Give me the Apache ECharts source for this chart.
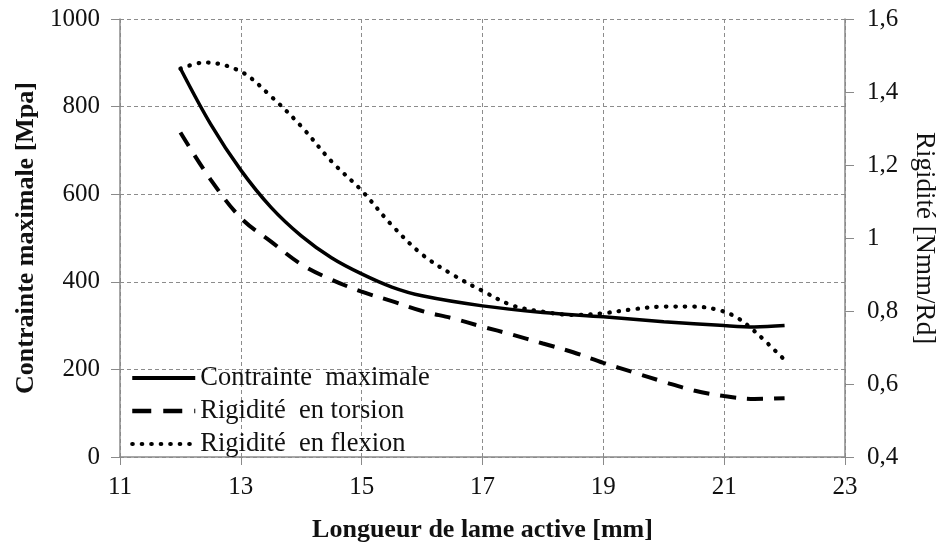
<!DOCTYPE html>
<html>
<head>
<meta charset="utf-8">
<script src="https://cdn.jsdelivr.net/npm/echarts@6/dist/echarts.min.js"></script>
<style>
  html, body { margin: 0; padding: 0; background: #fff; }
  #chart { width: 937px; height: 544px; }
</style>
</head>
<body>
<div id="chart"></div>
<script>
// longueur de lame active [mm] / valeurs
const xContrainte = [12, 12.5, 13, 13.5, 14, 14.5, 15, 15.5, 16, 17, 18, 19, 20, 21, 21.5, 22];
const contrainte  = [887, 760, 655, 570, 505, 455, 418, 388, 368, 345, 330, 320, 309, 300, 297, 300];

const xTorsion = [12, 12.5, 13, 13.5, 14, 14.5, 15, 15.5, 16, 16.5, 17, 17.5, 18, 18.5, 19, 19.5, 20, 20.5, 21, 21.5, 22];
const torsion  = [1.289, 1.16, 1.055, 0.99, 0.928, 0.886, 0.853, 0.827, 0.80, 0.78, 0.757, 0.735, 0.711, 0.687, 0.658, 0.632, 0.606, 0.582, 0.567, 0.559, 0.561];

const xFlexion = [12, 12.4, 13, 13.5, 14, 14.5, 15, 15.5, 16, 16.5, 17, 17.5, 18, 18.5, 19, 19.5, 20, 20.5, 20.9, 21.2, 21.5, 22];
const flexion  = [1.464, 1.481, 1.456, 1.388, 1.306, 1.21, 1.13, 1.035, 0.955, 0.90, 0.855, 0.815, 0.798, 0.789, 0.794, 0.805, 0.812, 0.812, 0.803, 0.783, 0.745, 0.666];

const seriesNames = ['Contrainte  maximale', 'Rigidité  en torsion', 'Rigidité  en flexion'];

const FONT = 'Liberation Serif';
const AXIS_GREY = '#8a8a8a';
const GRID_LINE = { show: true, lineStyle: { color: '#8c8c8c', type: [4, 3], width: 1 } };
const SOLID = { color: '#000', width: 3.5 };
const DASHES = { color: '#000', width: 4, type: [16, 11] };
const DOTS = { color: '#000', width: 4.2, type: [0.5, 9], cap: 'round' };

const pairs = (xs, ys) => xs.map((x, i) => [x, ys[i]]);

const chart = echarts.init(document.getElementById('chart'), null, { renderer: 'canvas' });

chart.setOption({
    animation: false,
    backgroundColor: '#fff',
    textStyle: { fontFamily: FONT, color: '#111' },
    grid: { left: 120, right: 92, top: 19, bottom: 87, containLabel: false, outerBoundsMode: 'none' },
    legend: {
        orient: 'vertical',
        left: 125,
        top: 357,
        itemWidth: 63,
        itemHeight: 14,
        itemGap: 1,
        // pas de symbole dans la légende, seulement le trait
        itemStyle: { opacity: 0 },
        textStyle: { fontFamily: FONT, fontSize: 26.5, color: '#111', lineHeight: 32 },
        data: [
            { name: seriesNames[0], lineStyle: { width: 4 } },
            { name: seriesNames[1], lineStyle: { width: 4.5, type: [19, 12] } },
            { name: seriesNames[2], lineStyle: DOTS }
        ]
    },
    xAxis: {
        type: 'value',
        min: 11,
        max: 23,
        interval: 2,
        name: 'Longueur de lame active [mm]',
        nameLocation: 'middle',
        nameGap: 60,
        nameTextStyle: { fontFamily: FONT, fontSize: 26, fontWeight: 'bold', color: '#111' },
        axisLine: { lineStyle: { color: AXIS_GREY, width: 1.5 } },
        axisTick: { length: 8, lineStyle: { color: AXIS_GREY } },
        axisLabel: { fontFamily: FONT, fontSize: 25, color: '#111', margin: 18 },
        splitLine: GRID_LINE
    },
    yAxis: [
        {
            type: 'value',
            min: 0,
            max: 1000,
            interval: 200,
            name: 'Contrainte maximale [Mpa]',
            nameLocation: 'middle',
            nameGap: 81,
            nameTextStyle: { fontFamily: FONT, fontSize: 26, fontWeight: 'bold', color: '#111' },
            axisLine: { show: true, lineStyle: { color: AXIS_GREY, width: 1.5 } },
            axisTick: { show: true, length: 9, lineStyle: { color: AXIS_GREY } },
            axisLabel: { fontFamily: FONT, fontSize: 25, color: '#111', margin: 20, formatter: v => String(v) },
            splitLine: GRID_LINE
        },
        {
            type: 'value',
            min: 0.4,
            max: 1.6,
            interval: 0.2,
            position: 'right',
            name: 'Rigidité [Nmm/Rd]',
            nameLocation: 'middle',
            nameGap: 66,
            nameRotate: -90,
            nameTextStyle: { fontFamily: FONT, fontSize: 27, color: '#111' },
            axisLine: { show: true, lineStyle: { color: AXIS_GREY, width: 1.5 } },
            axisTick: { show: true, length: 9, lineStyle: { color: AXIS_GREY } },
            axisLabel: {
                fontFamily: FONT, fontSize: 25, color: '#111', margin: 22,
                formatter: v => String(Math.round(v * 10) / 10).replace('.', ',')
            },
            splitLine: { show: false }
        }
    ],
    series: [
        {
            name: seriesNames[0],
            type: 'line',
            yAxisIndex: 0,
            smooth: 0.35,
            symbol: 'none',
            data: pairs(xContrainte, contrainte),
            lineStyle: SOLID,
            itemStyle: { color: '#000' },
            z: 3
        },
        {
            name: seriesNames[1],
            type: 'line',
            yAxisIndex: 1,
            smooth: 0.35,
            symbol: 'none',
            data: pairs(xTorsion, torsion),
            lineStyle: DASHES,
            itemStyle: { color: '#000' },
            z: 2
        },
        {
            name: seriesNames[2],
            type: 'line',
            yAxisIndex: 1,
            smooth: 0.35,
            symbol: 'none',
            data: pairs(xFlexion, flexion),
            lineStyle: DOTS,
            itemStyle: { color: '#000' },
            z: 2
        }
    ]
});
</script>
</body>
</html>
